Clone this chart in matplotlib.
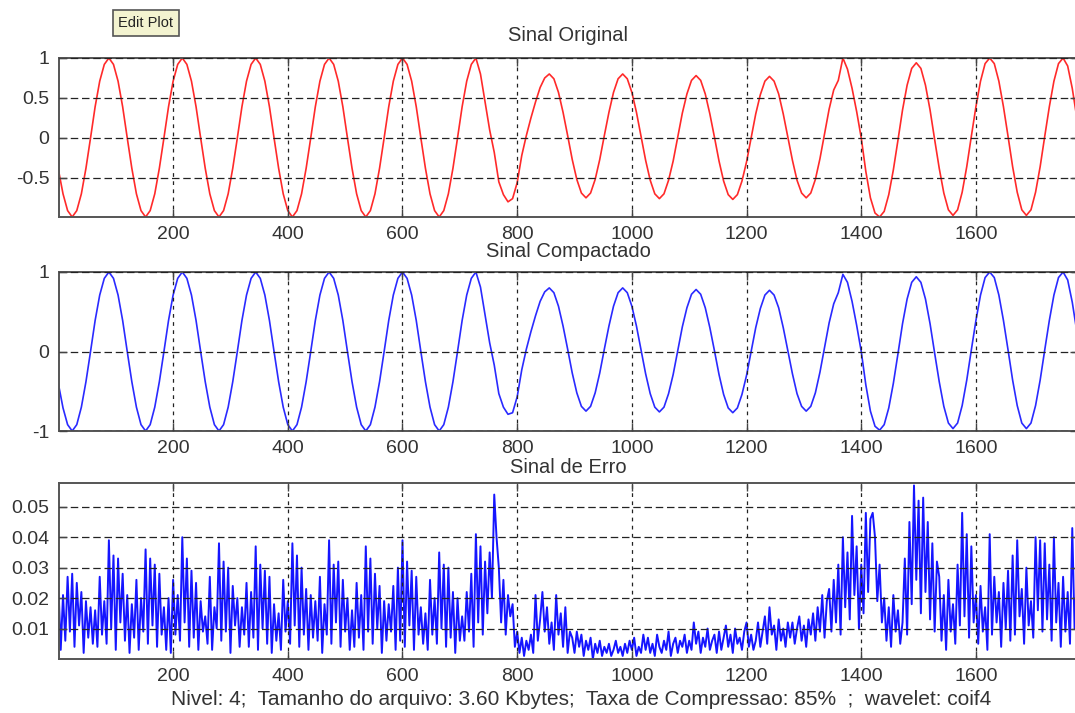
import numpy as np
import matplotlib.pyplot as plt

plt.rcParams['font.family'] = ['Liberation Sans', 'DejaVu Sans']
plt.rcParams['axes.unicode_minus'] = False

# sample index of the points (every 8 samples for the sines,
# every 4 samples for the error signal)
amostras_sinal = np.arange(0, 1777, 8)
amostras_erro = np.arange(0, 1777, 4)

sinal_original = [
    -0.40, -0.70, -0.91,
    -0.99, -0.91, -0.70, -0.38, 0.00, 0.39, 0.71, 0.92,
    1.00, 0.92, 0.71, 0.39, 0.00, -0.38, -0.70, -0.91,
    -0.99, -0.91, -0.70, -0.38, 0.00, 0.39, 0.71, 0.92,
    1.00, 0.92, 0.71, 0.39, 0.00, -0.38, -0.70, -0.91,
    -0.99, -0.91, -0.70, -0.38, 0.00, 0.39, 0.71, 0.92,
    1.00, 0.92, 0.71, 0.39, 0.00, -0.38, -0.70, -0.91,
    -0.99, -0.91, -0.70, -0.38, 0.00, 0.39, 0.71, 0.92,
    1.00, 0.92, 0.71, 0.39, 0.00, -0.38, -0.70, -0.91,
    -0.99, -0.91, -0.70, -0.38, 0.00, 0.39, 0.71, 0.92,
    1.00, 0.92, 0.71, 0.39, 0.00, -0.38, -0.70, -0.91,
    -0.99, -0.91, -0.70, -0.38, 0.00, 0.39, 0.71, 0.92,
    1.00, 0.80, 0.45, 0.10, -0.18, -0.55, -0.71, -0.80,
    -0.76, -0.56, -0.22, 0.03, 0.25, 0.45, 0.63, 0.75,
    0.80, 0.74, 0.57, 0.32, 0.03, -0.27, -0.52, -0.69,
    -0.75, -0.69, -0.52, -0.27, 0.03, 0.32, 0.57, 0.74,
    0.80, 0.74, 0.57, 0.32, 0.02, -0.28, -0.53, -0.70,
    -0.76, -0.70, -0.53, -0.29, 0.01, 0.31, 0.55, 0.72,
    0.78, 0.72, 0.55, 0.30, 0.01, -0.29, -0.54, -0.71,
    -0.77, -0.71, -0.54, -0.30, 0.00, 0.30, 0.54, 0.71,
    0.77, 0.71, 0.55, 0.30, 0.01, -0.28, -0.53, -0.69,
    -0.75, -0.69, -0.52, -0.26, 0.05, 0.36, 0.60, 0.72,
    1.00, 0.86, 0.62, 0.33, 0.00, -0.42, -0.75, -0.94,
    -0.99, -0.92, -0.71, -0.40, -0.03, 0.35, 0.66, 0.87,
    0.94, 0.87, 0.66, 0.35, -0.02, -0.38, -0.69, -0.90,
    -0.97, -0.90, -0.68, -0.36, 0.02, 0.39, 0.71, 0.93,
    1.00, 0.93, 0.71, 0.39, 0.02, -0.36, -0.68, -0.90,
    -0.97, -0.90, -0.68, -0.36, 0.02, 0.39, 0.71, 0.93,
    1.00, 0.90, 0.62, 0.25,
]

sinal_compactado = [
    -0.41, -0.71, -0.92,
    -1.00, -0.92, -0.70, -0.38, 0.00, 0.39, 0.71, 0.92,
    1.00, 0.92, 0.71, 0.39, 0.00, -0.38, -0.70, -0.92,
    -1.00, -0.92, -0.70, -0.38, 0.00, 0.39, 0.71, 0.92,
    1.00, 0.92, 0.71, 0.39, 0.00, -0.38, -0.70, -0.92,
    -1.00, -0.92, -0.70, -0.38, 0.00, 0.39, 0.71, 0.92,
    1.00, 0.92, 0.71, 0.39, 0.00, -0.38, -0.70, -0.92,
    -1.00, -0.92, -0.70, -0.38, 0.00, 0.39, 0.71, 0.92,
    1.00, 0.92, 0.71, 0.39, 0.00, -0.38, -0.70, -0.92,
    -1.00, -0.92, -0.70, -0.38, 0.00, 0.39, 0.71, 0.92,
    1.00, 0.92, 0.71, 0.39, 0.00, -0.38, -0.70, -0.92,
    -1.00, -0.92, -0.70, -0.38, 0.00, 0.39, 0.71, 0.92,
    1.00, 0.81, 0.46, 0.11, -0.17, -0.53, -0.70, -0.79,
    -0.77, -0.57, -0.23, 0.03, 0.25, 0.45, 0.63, 0.75,
    0.80, 0.74, 0.57, 0.32, 0.03, -0.27, -0.52, -0.69,
    -0.75, -0.69, -0.52, -0.27, 0.03, 0.32, 0.57, 0.74,
    0.80, 0.74, 0.57, 0.32, 0.02, -0.28, -0.53, -0.70,
    -0.76, -0.70, -0.53, -0.29, 0.01, 0.31, 0.55, 0.72,
    0.78, 0.72, 0.55, 0.30, 0.01, -0.29, -0.54, -0.71,
    -0.77, -0.71, -0.54, -0.30, 0.00, 0.30, 0.54, 0.71,
    0.77, 0.71, 0.55, 0.30, 0.01, -0.28, -0.53, -0.69,
    -0.75, -0.69, -0.52, -0.26, 0.05, 0.36, 0.60, 0.74,
    0.97, 0.87, 0.63, 0.33, 0.00, -0.42, -0.75, -0.94,
    -0.99, -0.92, -0.71, -0.40, -0.03, 0.35, 0.66, 0.87,
    0.94, 0.87, 0.66, 0.35, -0.02, -0.38, -0.69, -0.90,
    -0.97, -0.90, -0.68, -0.36, 0.02, 0.39, 0.71, 0.93,
    1.00, 0.93, 0.71, 0.39, 0.02, -0.36, -0.68, -0.90,
    -0.97, -0.90, -0.68, -0.36, 0.02, 0.39, 0.71, 0.93,
    1.00, 0.90, 0.62, 0.25,
]

# error signal, in thousandths
erro_mil = [
    24, 3, 21, 6, 27, 9, 28, 4, 25, 11, 22, 2, 19, 7, 17, 5,
    16, 4, 27, 8, 19, 5, 39, 10, 34, 3, 33, 12, 28, 6, 21, 2,
    18, 7, 26, 3, 20, 9, 36, 5, 33, 11, 31, 4, 28, 8, 17, 3,
    20, 2, 26, 8, 21, 6, 40, 12, 33, 4, 29, 7, 25, 3, 19, 9,
    14, 5, 27, 3, 17, 10, 38, 6, 32, 9, 30, 2, 24, 11, 20, 4,
    17, 8, 25, 4, 22, 7, 37, 3, 31, 10, 29, 5, 27, 2, 18, 6,
    15, 3, 26, 9, 19, 5, 38, 11, 34, 4, 30, 8, 23, 3, 21, 7,
    19, 6, 27, 2, 18, 8, 39, 5, 31, 12, 32, 4, 26, 9, 20, 3,
    16, 4, 25, 7, 21, 3, 37, 9, 33, 5, 28, 10, 24, 2, 19, 6,
    18, 9, 24, 3, 30, 6, 39, 4, 32, 11, 29, 3, 27, 8, 17, 5,
    15, 3, 26, 8, 20, 5, 35, 10, 31, 4, 30, 7, 22, 2, 20, 6,
    14, 6, 22, 9, 28, 4, 41, 12, 37, 8, 32, 15, 35, 20, 54, 40,
    30, 12, 26, 8, 21, 14, 18, 4, 9, 2, 7, 1, 6, 3, 8, 2,
    21, 6, 13, 22, 9, 17, 5, 12, 3, 21, 8, 15, 4, 17, 2, 9,
    7, 2, 9, 4, 8, 1, 6, 3, 7, 0, 5, 2, 6, 1, 4, 2,
    5, 1, 3, 6, 2, 4, 1, 5, 2, 6, 3, 7, 1, 4, 2, 8,
    3, 7, 2, 5, 1, 8, 4, 2, 6, 3, 9, 1, 5, 7, 2, 6,
    4, 8, 2, 6, 3, 12, 5, 9, 2, 7, 4, 10, 3, 6, 8, 2,
    9, 3, 7, 11, 4, 8, 2, 10, 5, 7, 3, 9, 12, 4, 8, 3,
    6, 12, 4, 9, 14, 5, 17, 8, 11, 3, 13, 6, 10, 4, 12, 7,
    12, 5, 10, 14, 6, 11, 4, 13, 8, 15, 6, 17, 9, 21, 7, 19,
    23, 9, 26, 12, 31, 8, 40, 17, 35, 13, 47, 21, 37, 10, 31, 15,
    48, 22, 46, 48, 40, 19, 31, 12, 20, 6, 17, 4, 21, 9, 16, 5,
    12, 33, 8, 45, 18, 57, 26, 52, 15, 53, 22, 45, 13, 38, 9, 32,
    27, 6, 21, 3, 26, 9, 18, 5, 31, 11, 48, 14, 41, 7, 37, 12,
    21, 5, 24, 9, 17, 3, 41, 8, 27, 12, 22, 4, 25, 10, 29, 6,
    34, 8, 39, 14, 23, 5, 30, 11, 19, 7, 40, 16, 39, 9, 38, 13,
    31, 6, 40, 12, 25, 4, 27, 9, 22, 5, 43, 10, 27,
]
sinal_erro = np.array(erro_mil) / 1000.0

x_ticks = [200, 400, 600, 800, 1000, 1200, 1400, 1600]
texto_rodape = ('Nivel: 4;  Tamanho do arquivo: 3.60 Kbytes;  '
                'Taxa de Compressao: 85%  ;  wavelet: coif4')

W, H = 1075, 713
fig = plt.figure(figsize=(W / 100, H / 100), dpi=100)
txt = '#333333'


def painel(top, bottom, title, tpad):
    left, right = 59, 1078
    ax = fig.add_axes([left / W, 1 - bottom / H, (right - left) / W,
                       (bottom - top) / H])
    ax.set_title(title, fontsize=14.5, color=txt, pad=tpad)
    ax.set_xlim(1, 1778)
    ax.set_xticks(x_ticks)
    ax.set_xticklabels([str(t) for t in x_ticks])
    ax.tick_params(direction='in', length=6, width=1, colors='#444444',
                   labelcolor=txt, labelsize=14, top=True, right=True)
    ax.tick_params(axis='x', pad=6.5)
    ax.tick_params(axis='y', pad=7)
    for s in ax.spines.values():
        s.set_color('#555555')
        s.set_linewidth(1.4)
    ax.xaxis.grid(True, color='#222222', lw=0.9, linestyle=(0, (3, 3.5)))
    ax.yaxis.grid(True, color='#222222', lw=0.9, linestyle=(0, (6, 3)))
    ax.set_axisbelow(False)
    return ax


ax1 = painel(58, 217, 'Sinal Original', 12)
ax1.plot(amostras_sinal, sinal_original, color='#ff2a2a', lw=1.2)
ax1.set_ylim(-0.99, 1.0)
ax1.set_yticks([-0.5, 0, 0.5, 1])
ax1.set_yticklabels(['-0.5', '0', '0.5', '1'])

ax2 = painel(272, 431, 'Sinal Compactado', 10.5)
ax2.plot(amostras_sinal, sinal_compactado, color='#2a2aff', lw=1.2)
ax2.set_ylim(-1, 1)
ax2.set_yticks([-1, 0, 1])
ax2.set_yticklabels(['-1', '0', '1'])

ax3 = painel(483, 659, 'Sinal de Erro', 7)
ax3.plot(amostras_erro, sinal_erro, color='#1515ff', lw=1.4)
ax3.set_ylim(0, 0.0578)
ax3.set_yticks([0.01, 0.02, 0.03, 0.04, 0.05])
ax3.set_yticklabels(['0.01', '0.02', '0.03', '0.04', '0.05'])
ax3.set_xlabel(texto_rodape, fontsize=15, color=txt)
ax3.xaxis.set_label_coords(0.512, -0.175)

fig.text(146 / W, 1 - 23 / H, 'Edit Plot', ha='center', va='center',
         fontsize=10.5, color='#222222',
         bbox=dict(boxstyle='square,pad=0.4', fc='#f3f3d0', ec='#555555',
                   lw=1.2))

plt.savefig('out.png', dpi=100)
